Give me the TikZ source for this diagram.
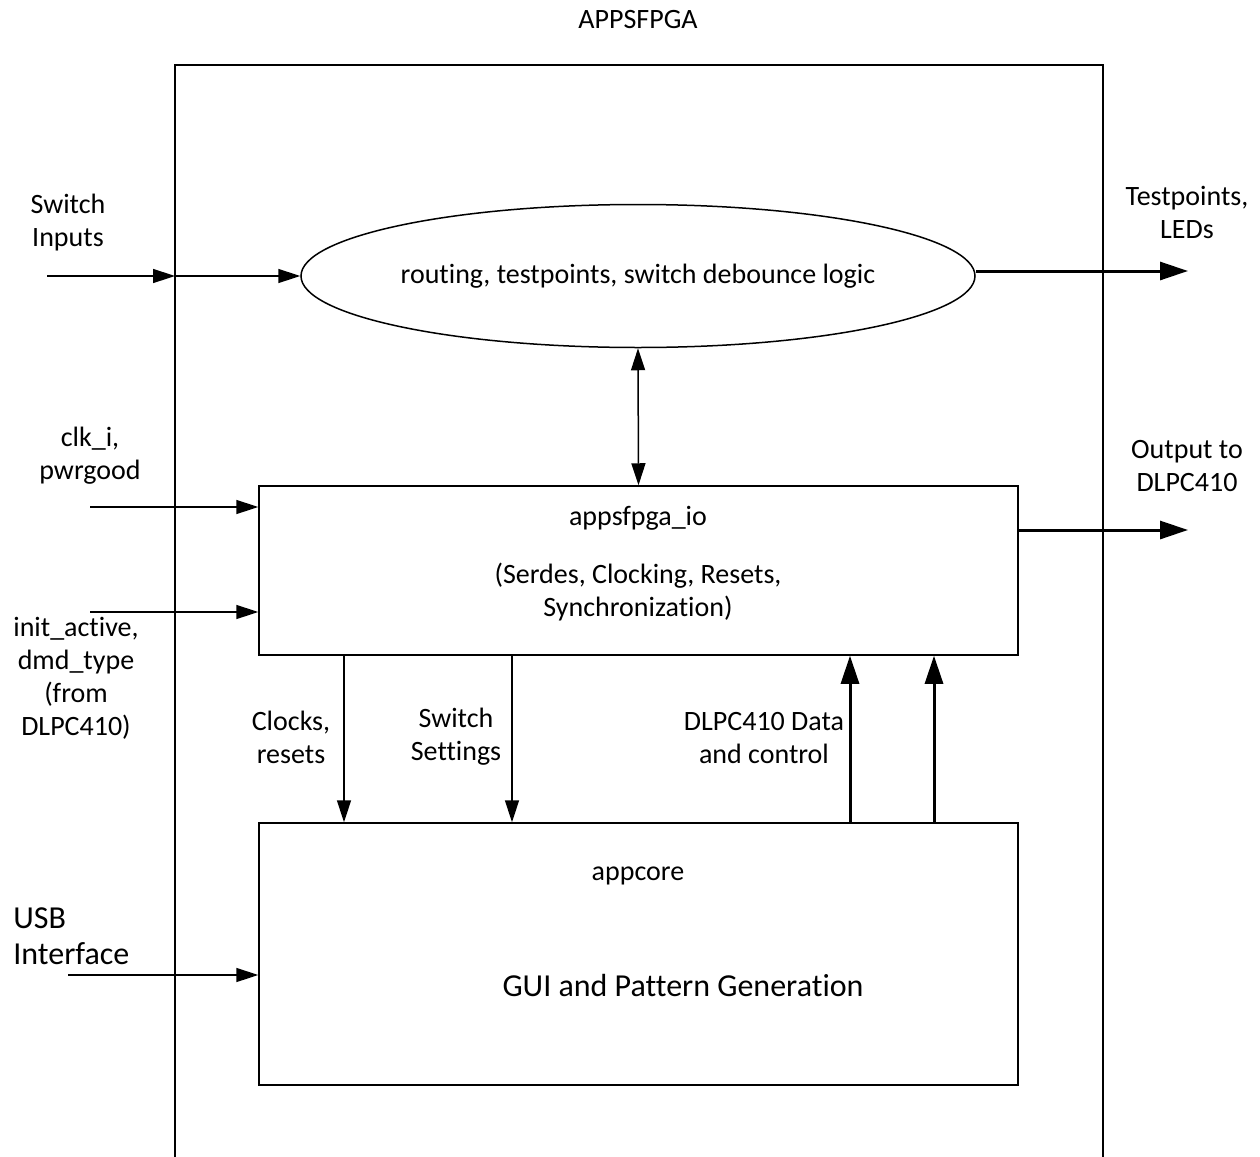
\documentclass[tikz,border=0pt]{standalone}
\usepackage{fontspec}
\setmainfont[Ligatures=NoCommon]{Carlito}
\usetikzlibrary{arrows.meta,shapes.geometric}
\begin{document}
\begin{tikzpicture}[x=0.5pt,y=-0.5pt,
  lbl/.style={inner sep=0pt,align=center,font=\fontsize{14}{16.5}\selectfont},
  big/.style={font=\fontsize{16}{18}\selectfont},
  blk/.style={draw,line width=0.75pt,inner sep=0pt},
  thin/.style={line width=0.75pt,-{Triangle[length=11pt,width=7pt]}},
  thick/.style={line width=1.5pt,-{Triangle[length=14pt,width=9pt]}}]
\useasboundingbox (0,0) rectangle (1260,1157);
% outer box (open at bottom)
\draw[line width=0.75pt] (175,1160) -- (175,65) -- (1103,65) -- (1103,1160);
\node[lbl] (title) at (638,20) {APPSFPGA};
% ellipse
\node[blk,ellipse,minimum width=674pt*0.5,minimum height=143pt*0.5] (ell) at (638,276) {};
\node[lbl] (elltxt) at (638,276) {routing, testpoints, switch debounce logic};
% io box
\node[blk,minimum width=759pt*0.5,minimum height=169pt*0.5] (io) at (638.5,570.5) {};
\node[lbl] (iotitle) at (638,518) {appsfpga\_io};
\node[lbl] (iodesc) at (638,592) {(Serdes, Clocking, Resets,\\Synchronization)};
% appcore box
\node[blk,minimum width=759pt*0.5,minimum height=262pt*0.5] (core) at (638.5,954) {};
\node[lbl] (coretitle) at (638,876) {appcore};
\node[lbl,big] (coredesc) at (683,985) {GUI and Pattern Generation};
% switch inputs
\node[lbl] (swin) at (68,223) {Switch\\Inputs};
\coordinate (swstart) at (47,276);
\coordinate (swmid) at (175,276);
\draw[thin] (swstart) -- (swmid);
\draw[thin] (swmid) -- (ell.west);
% testpoints
\node[lbl] (tp) at (1187,212) {Testpoints,\\LEDs};
\coordinate (tpend) at (1188,271);
\draw[thick] (976,271) -- (tpend);
% bidirectional
\draw[line width=0.75pt,{Triangle[length=11pt,width=7pt]}-{Triangle[length=11pt,width=7pt]}] (ell.south) -- (io.north);
% clk
\node[lbl] (clk) at (90,456) {clk\_i,\\pwrgood};
\coordinate (clkstart) at (90,507);
\draw[thin] (clkstart) -- (io.west |- clkstart);
% init active
\node[lbl] (init) at (76,678) {init\_active,\\dmd\_type\\(from\\DLPC410)};
\coordinate (initstart) at (90,612);
\draw[thin] (initstart) -- (io.west |- initstart);
% output
\node[lbl] (out) at (1187,466) {Output to\\DLPC410};
\coordinate (outend) at (1188,530);
\draw[thick] (io.east |- outend) -- (outend);
% down arrows
\coordinate (d1) at (344,655);
\coordinate (d2) at (512,655);
\draw[thin] (d1) -- (core.north -| d1);
\draw[thin] (d2) -- (core.north -| d2);
\node[lbl] (clkres) at (291,737) {Clocks,\\resets};
\node[lbl] (swset) at (456,737) {Switch\\Settings};
% up arrows
\coordinate (u1) at (850,823);
\coordinate (u2) at (934,823);
\draw[thick] (u1) -- (io.south -| u1);
\draw[thick] (u2) -- (io.south -| u2);
\node[lbl] (dlpc) at (764,738) {DLPC410 Data\\and control};
% usb
\node[lbl,big,align=left,anchor=west] (usb) at (13,936) {USB\\Interface};
\coordinate (usbstart) at (68,975);
\draw[thin] (usbstart) -- (core.west |- usbstart);
\end{tikzpicture}
\end{document}
